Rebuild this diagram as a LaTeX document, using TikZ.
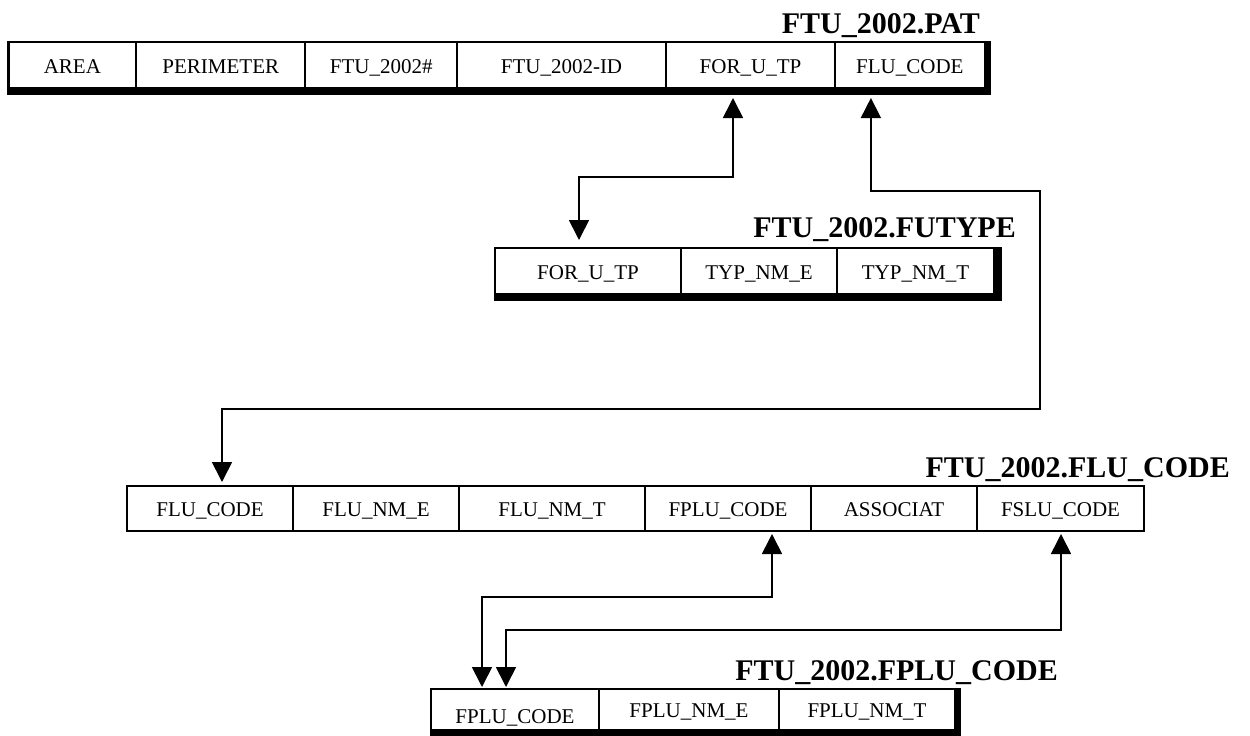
\documentclass[tikz,border=0pt]{standalone}
\usepackage{fontspec}
\setmainfont{Liberation Serif}
\usetikzlibrary{arrows.meta,calc}
\begin{document}
\begin{tikzpicture}[x=1pt,y=-1pt,
  cell/.style={draw, fill=white, inner sep=0pt, outer sep=0pt, line width=2pt,
    text height=17pt, text depth=0pt, font=\fontsize{21}{25}\selectfont},
  title/.style={inner sep=0pt, anchor=base east, font=\fontsize{30}{34}\selectfont\bfseries},
  conn/.style={line width=1.7pt, {Triangle[width=20pt,length=20pt]}-{Triangle[width=20pt,length=20pt]}},
  shadowbox/.style={fill=black},
]
\useasboundingbox (0,0) rectangle (1250,736);

% ---- FTU_2002.PAT
\fill[shadowbox] (7,40.5) rectangle (991,95);
\begin{scope}[every node/.append style={line width=3pt, minimum height=45.5pt}]
\node[cell, minimum width=127.8pt] (pat1) at (72.4,64.75) {AREA};
\node[cell, minimum width=169pt]   (pat2) at (220.8,64.75) {PERIMETER};
\node[cell, minimum width=152pt]   (pat3) at (381.3,64.75) {FTU\_2002\#};
\node[cell, minimum width=208.4pt] (pat4) at (561.5,64.75) {FTU\_2002-ID};
\node[cell, minimum width=169.6pt] (pat5) at (750.5,64.75) {FOR\_U\_TP};
\node[cell, minimum width=149.2pt] (pat6) at (909.9,64.75) {FLU\_CODE};
\end{scope}
\node[title] (tpat) at (980,33) {FTU\_2002.PAT};

% ---- FTU_2002.FUTYPE
\fill[shadowbox] (494,247.3) rectangle (1002,301);
\begin{scope}[every node/.append style={minimum height=45.4pt}]
\node[cell, minimum width=186pt] (fut1) at (588,271) {FOR\_U\_TP};
\node[cell, minimum width=156pt] (fut2) at (759,271) {TYP\_NM\_E};
\node[cell, minimum width=157pt] (fut3) at (915.5,271) {TYP\_NM\_T};
\end{scope}
\node[title] (tfut) at (1016,237) {FTU\_2002.FUTYPE};

% ---- FTU_2002.FLU_CODE
\begin{scope}[every node/.append style={minimum height=44.7pt}]
\node[cell, minimum width=166pt] (flu1) at (210,508.35) {FLU\_CODE};
\node[cell, minimum width=166pt] (flu2) at (376,508.35) {FLU\_NM\_E};
\node[cell, minimum width=186pt] (flu3) at (552,508.35) {FLU\_NM\_T};
\node[cell, minimum width=166pt] (flu4) at (728,508.35) {FPLU\_CODE};
\node[cell, minimum width=166pt] (flu5) at (894,508.35) {ASSOCIAT};
\node[cell, minimum width=167pt] (flu6) at (1060.5,508.35) {FSLU\_CODE};
\end{scope}
\node[title] (tflu) at (1230,477) {FTU\_2002.FLU\_CODE};

% ---- FTU_2002.FPLU_CODE
\fill[shadowbox] (430,688) rectangle (961,736);
\begin{scope}[every node/.append style={minimum height=41pt}]
\node[cell, minimum width=168pt, text height=28pt] (fplu1) at (515,709.5) {FPLU\_CODE};
\node[cell, minimum width=180pt, text height=15pt] (fplu2) at (689,709.5) {FPLU\_NM\_E};
\node[cell, minimum width=176pt, text height=15pt] (fplu3) at (867,709.5) {FPLU\_NM\_T};
\end{scope}
\node[title] (tfplu) at (1058,680) {FTU\_2002.FPLU\_CODE};

% ---- connectors
\draw[conn] ($(pat5.south)+(-17.5,10.5)$) -- ++(0,79) -| ($(fut1.north)+(-9,-8.3)$);
\draw[conn] ($(pat6.south)+(-39,10.5)$) -- ++(0,93) -- ++(169,0) -- ++(0,218) -| ($(flu1.north)+(12,-4)$);
\draw[conn] ($(flu4.south)+(44,3.3)$) -- ++(0,63) -| ($(fplu1.north)+(-33,-2)$);
\draw[conn] ($(flu6.south)+(0.5,3.3)$) -- ++(0,96) -| ($(fplu1.north)+(-9,-2)$);
\end{tikzpicture}
\end{document}
